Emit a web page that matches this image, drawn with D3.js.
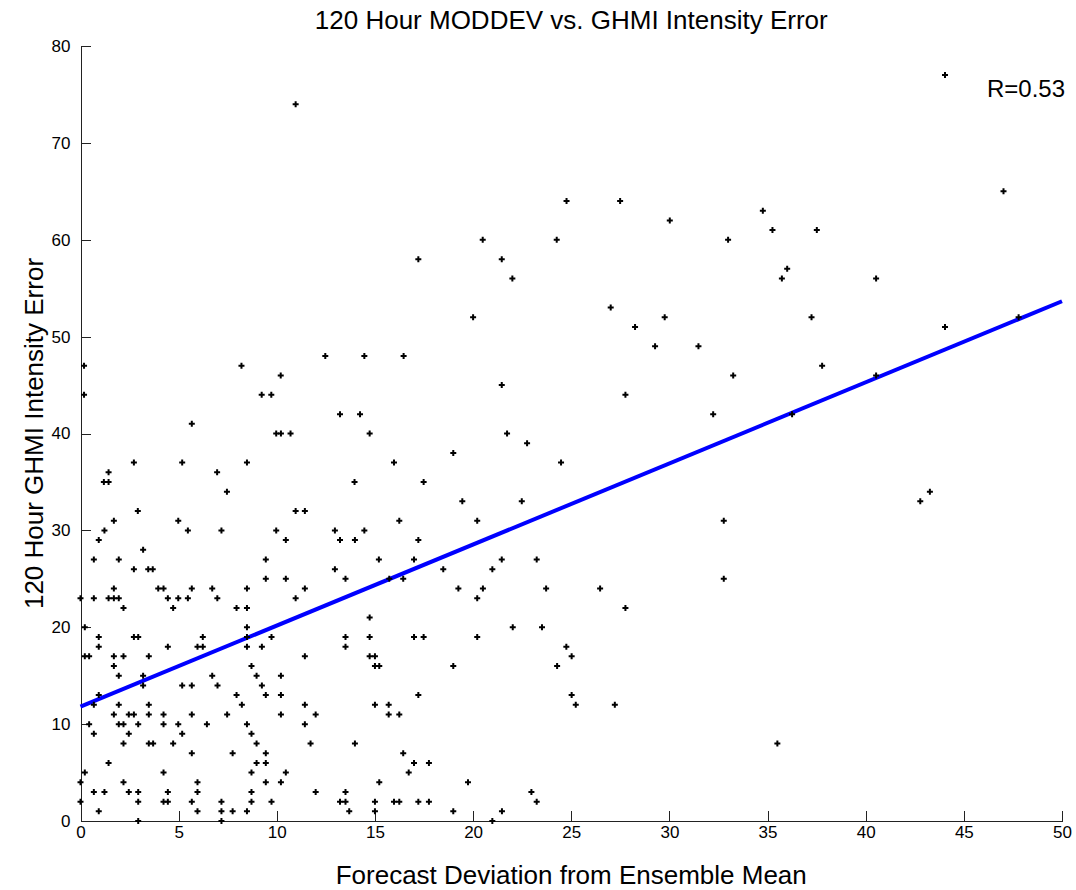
<!DOCTYPE html>
<html>
<head>
<meta charset="utf-8">
<script src="https://cdn.jsdelivr.net/npm/d3@7"></script>
<style>
  body { margin: 0; background: #fff; }
  svg text { font-family: "Liberation Sans", Arial, Helvetica, sans-serif; fill: #000; }
  .axis path, .axis line { stroke: #222; stroke-width: 1; shape-rendering: crispEdges; }
  .axis text { font-size: 17px; }
</style>
</head>
<body>
<div class="scatter"></div>
<script>
// points, grouped by intensity error (y)
var errValues = [77, 74, 65, 64, 63, 62, 61, 60, 58, 57, 56, 53, 52, 51, 49, 48, 47, 46, 45, 44, 42, 41, 40, 39, 38, 37, 36, 35, 34, 33, 32, 31, 30, 29, 28, 27, 26, 25, 24, 23, 22, 21, 20, 19, 18, 17, 16, 15, 14, 13, 12, 11, 10, 9, 8, 7, 6, 5, 4, 3, 2, 1, 0];
var devByErr = [
  [44.04],
  [10.96],
  [47.02],
  [24.76, 27.49],
  [34.76],
  [30.02],
  [35.25, 37.51],
  [20.49, 24.26, 32.99],
  [17.21, 21.46],
  [36.0],
  [22.0, 35.73, 40.53],
  [27.01],
  [20.0, 29.76, 37.24, 47.79],
  [28.25, 44.04],
  [29.27, 31.48],
  [12.47, 14.46, 16.46],
  [0.18, 8.2, 37.78],
  [10.2, 33.25, 40.53],
  [21.46],
  [0.18, 9.23, 9.72, 27.76],
  [13.22, 14.24, 32.23, 36.25],
  [5.67],
  [9.97, 10.21, 10.7, 14.73, 21.73],
  [22.75],
  [18.99],
  [2.72, 5.18, 8.48, 15.97, 24.48],
  [1.43, 6.96],
  [1.19, 1.43, 13.96, 17.48],
  [7.46, 43.27],
  [19.45, 22.48, 42.78],
  [2.92, 10.96, 11.43],
  [1.7, 4.98, 16.24, 20.21, 32.77],
  [1.22, 5.47, 7.18, 9.97, 12.96, 14.46],
  [0.93, 10.46, 13.22, 13.98, 17.21],
  [3.19],
  [0.68, 1.95, 9.44, 15.2, 16.99, 21.46, 23.24],
  [2.72, 3.45, 3.68, 12.96, 18.48, 20.98],
  [9.44, 10.46, 13.5, 15.73, 16.44, 32.77],
  [1.7, 3.96, 4.23, 5.67, 6.71, 8.48, 11.43, 19.25, 20.5, 23.72, 26.47],
  [0, 0.68, 1.43, 1.7, 1.95, 4.45, 4.98, 5.47, 6.97, 10.96, 20.21],
  [2.19, 4.72, 7.95, 8.48, 27.76],
  [14.73],
  [0.22, 8.48, 22.02, 23.51],
  [0.93, 2.72, 2.94, 6.23, 8.48, 9.73, 13.5, 14.73, 16.99, 17.48, 20.21],
  [0.93, 4.45, 5.96, 6.23, 8.48, 9.24, 13.5, 24.75],
  [0.22, 0.44, 1.7, 2.19, 3.48, 11.43, 14.73, 15.0, 25.02],
  [1.7, 8.71, 15.0, 15.22, 18.99, 24.28],
  [1.95, 3.19, 6.71, 8.97, 10.21],
  [3.19, 5.18, 5.67, 6.98, 9.24],
  [0.93, 7.95, 9.44, 10.21, 17.21, 25.02],
  [0.68, 1.95, 3.48, 8.22, 11.43, 15.0, 15.7, 25.23, 27.22],
  [1.7, 2.46, 2.72, 3.48, 4.23, 5.67, 7.47, 10.21, 11.98, 15.7, 16.24],
  [0.44, 1.95, 2.19, 2.94, 4.23, 4.98, 6.44, 8.48, 11.43],
  [0.68, 2.46, 5.18, 8.71],
  [2.19, 3.48, 3.7, 4.72, 8.97, 11.72, 13.98, 35.5],
  [5.67, 7.75, 9.44, 16.44],
  [1.43, 8.97, 9.44, 16.99, 17.75],
  [0.22, 4.23, 8.71, 10.46, 16.72],
  [0, 2.19, 5.96, 9.44, 10.21, 15.22, 19.74],
  [0.68, 1.22, 2.46, 2.94, 4.45, 5.96, 8.71, 11.98, 13.5, 22.97],
  [0, 2.94, 4.23, 4.45, 5.67, 7.18, 8.71, 9.73, 13.22, 13.5, 15.0, 15.97, 16.24, 17.21, 17.75, 23.24],
  [0.93, 5.96, 7.18, 7.75, 8.48, 13.69, 15.0, 18.99, 21.47],
  [2.94, 7.18, 20.98]
];

// least squares line, as drawn
var fitX = [0, 50];
var fitY = [11.8, 53.65];

var xTicks = [0, 5, 10, 15, 20, 25, 30, 35, 40, 45, 50];
var yTicks = [0, 10, 20, 30, 40, 50, 60, 70, 80];

var svgWidth = 1076;
var svgHeight = 890;

var margin = {
  top: 46,
  right: 14,
  bottom: 69,
  left: 80.5
};

var width = svgWidth - margin.left - margin.right;
var height = svgHeight - margin.top - margin.bottom;

var svg = d3.select(".scatter")
  .append("svg")
  .attr("width", svgWidth)
  .attr("height", svgHeight);

var chartGroup = svg.append("g")
  .attr("transform", `translate(${margin.left}, ${margin.top})`);

// flatten into point records
var points = [];
errValues.forEach((e, i) => {
  devByErr[i].forEach(d => points.push({ dev: d, err: e }));
});

var xScale = d3.scaleLinear()
  .domain([0, 50])
  .range([0, width]);

var yScale = d3.scaleLinear()
  .domain([0, 80])
  .range([height, 0]);

// axes, ticks pointing inward like matlab
var bottomAxis = d3.axisBottom(xScale)
  .tickValues(xTicks)
  .tickSizeInner(-10)
  .tickSizeOuter(0)
  .tickPadding(5);
var leftAxis = d3.axisLeft(yScale)
  .tickValues(yTicks)
  .tickSizeInner(-10)
  .tickSizeOuter(0)
  .tickPadding(10);

chartGroup.append("g")
  .attr("class", "axis")
  .attr("transform", `translate(0, ${height})`)
  .call(bottomAxis);
chartGroup.append("g")
  .attr("class", "axis")
  .call(leftAxis);

svg.selectAll(".axis text").attr("fill", "#000");

// regression line
var line = d3.line()
  .x(d => xScale(d[0]))
  .y(d => yScale(d[1]));

chartGroup.append("path")
  .datum(fitX.map((x, i) => [x, fitY[i]]))
  .attr("d", line)
  .attr("fill", "none")
  .attr("stroke", "#0000ff")
  .attr("stroke-width", 4);

// points
var marker = d3.symbol().type(d3.symbolCross).size(20);
chartGroup.selectAll(".pt")
  .data(points)
  .enter()
  .append("path")
  .attr("class", "pt")
  .attr("d", marker)
  .attr("transform", d => `translate(${xScale(d.dev)}, ${yScale(d.err)})`)
  .attr("fill", "#000");

// title and labels
svg.append("text")
  .attr("x", margin.left + width / 2)
  .attr("y", 29)
  .style("font-size", "26px")
  .style("text-anchor", "middle")
  .text("120 Hour MODDEV vs. GHMI Intensity Error");

svg.append("text")
  .attr("x", margin.left + width / 2)
  .attr("y", 884)
  .style("font-size", "26px")
  .style("text-anchor", "middle")
  .text("Forecast Deviation from Ensemble Mean");

svg.append("text")
  .attr("transform", `translate(43, ${margin.top + height / 2}) rotate(-90)`)
  .style("font-size", "26px")
  .style("text-anchor", "middle")
  .text("120 Hour GHMI Intensity Error");

svg.append("text")
  .attr("x", 1065)
  .attr("y", 97)
  .style("font-size", "24px")
  .style("text-anchor", "end")
  .text("R=0.53");
</script>
</body>
</html>
